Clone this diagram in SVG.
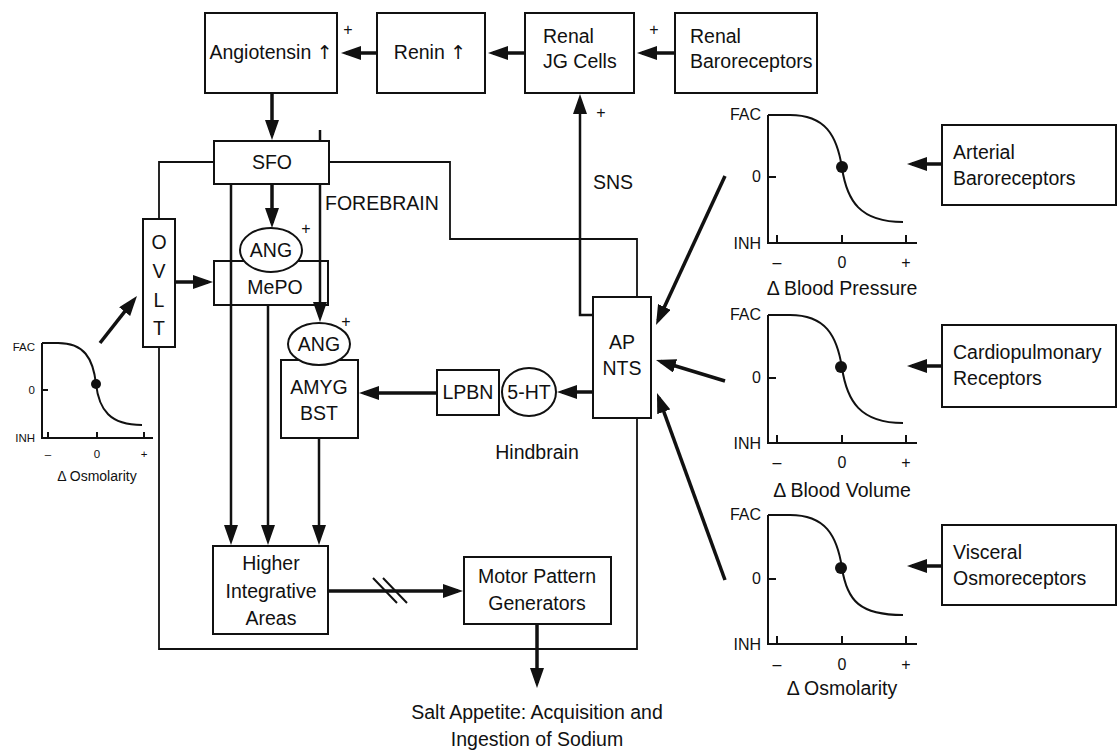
<svg xmlns="http://www.w3.org/2000/svg" width="1117" height="753" viewBox="0 0 1117 753">
<defs>
<marker id="ah" markerUnits="userSpaceOnUse" markerWidth="20" markerHeight="14" refX="15" refY="7" orient="auto">
<path d="M0,0 L20,7 L0,14 z" fill="#111"/>
</marker>
<style>
.box{fill:#fff;stroke:#111;stroke-width:2}
.t{font-family:"Liberation Sans",Arial,sans-serif;font-size:19.5px;fill:#111}
.m{text-anchor:middle}
.e{text-anchor:end}
.s{font-size:16px}
.xs{font-size:11.5px}
.up{font-family:"DejaVu Sans",sans-serif;font-size:19px}
.arr{stroke:#111;stroke-width:3.5;fill:none;marker-end:url(#ah)}
.ln{stroke:#111;stroke-width:2.5;fill:none}
.frame{stroke:#111;stroke-width:1.8;fill:none}
.axis{stroke:#111;stroke-width:2;fill:none}
</style>
</defs>
<rect width="1117" height="753" fill="#fff"/>

<g id="angiotensin"><rect class="box" x="205" y="13" width="132" height="80"/><text class="t m" x="271" y="59">Angiotensin <tspan class="up">↑</tspan></text></g>
<g id="renin"><rect class="box" x="377" y="13" width="108" height="80"/><text class="t m" x="430" y="59">Renin <tspan class="up">↑</tspan></text></g>
<g id="jg"><rect class="box" x="525" y="13" width="109" height="80"/><text class="t" x="543" y="43">Renal</text><text class="t" x="543" y="68">JG Cells</text></g>
<g id="renalbaro"><rect class="box" x="675" y="13" width="142" height="80"/><text class="t" x="690" y="43">Renal</text><text class="t" x="690" y="68">Baroreceptors</text></g>
<g id="plus-top"><text class="t s m" x="348" y="35">+</text><text class="t s m" x="654" y="35">+</text><text class="t s m" x="601" y="118">+</text></g>

<g id="sfo"><rect class="box" x="214" y="141" width="115" height="43"/><text class="t m" x="272" y="169">SFO</text></g>
<g id="ovlt"><rect class="box" x="143" y="219" width="32" height="128"/>
<text class="t m" x="159" y="249">O</text><text class="t m" x="159" y="278">V</text><text class="t m" x="159" y="307">L</text><text class="t m" x="159" y="335">T</text></g>
<g id="mepo"><rect class="box" x="214" y="261" width="114" height="44" style="fill:none"/><text class="t m" x="275" y="294">MePO</text></g>
<g id="ang1"><ellipse class="box" cx="271" cy="250" rx="31" ry="22"/><text class="t m" x="271" y="257">ANG</text><text class="t s m" x="306" y="234">+</text></g>
<g id="amyg"><rect class="box" x="281" y="360" width="77" height="78"/><text class="t m" x="319" y="394">AMYG</text><text class="t m" x="319" y="420">BST</text></g>
<g id="ang2"><ellipse class="box" cx="319" cy="344" rx="31" ry="21"/><text class="t m" x="319" y="351">ANG</text><text class="t s m" x="346" y="327">+</text></g>
<g id="lpbn"><rect class="box" x="437" y="370" width="62" height="45"/><text class="t m" x="468" y="399">LPBN</text></g>
<g id="ht5"><ellipse class="box" cx="529" cy="392" rx="27" ry="24"/><text class="t m" x="529" y="399">5-HT</text></g>
<g id="apnts"><rect class="box" x="593" y="297" width="58" height="121"/><text class="t m" x="622" y="349">AP</text><text class="t m" x="622" y="375">NTS</text></g>
<g id="higher"><rect class="box" x="213" y="546" width="115" height="88"/><text class="t m" x="271" y="570">Higher</text><text class="t m" x="271" y="598">Integrative</text><text class="t m" x="271" y="625">Areas</text></g>
<g id="motor"><rect class="box" x="464" y="557" width="147" height="67"/><text class="t m" x="537" y="583">Motor Pattern</text><text class="t m" x="537" y="610">Generators</text></g>
<g id="labels"><text class="t" x="325" y="210">FOREBRAIN</text><text class="t m" x="613" y="189">SNS</text><text class="t m" x="537" y="459">Hindbrain</text>
<text class="t m" x="537" y="719">Salt Appetite: Acquisition and</text><text class="t m" x="537" y="746">Ingestion of Sodium</text></g>

<g id="arterial"><rect class="box" x="942" y="125" width="174" height="80"/><text class="t" x="953" y="159">Arterial</text><text class="t" x="953" y="185">Baroreceptors</text></g>
<g id="cardio"><rect class="box" x="942" y="325" width="174" height="82"/><text class="t" x="953" y="359">Cardiopulmonary</text><text class="t" x="953" y="385">Receptors</text></g>
<g id="visceral"><rect class="box" x="942" y="525" width="174" height="80"/><text class="t" x="953" y="559">Visceral</text><text class="t" x="953" y="585">Osmoreceptors</text></g>

<g id="graph-bp">
<path class="axis" d="M768,115 V243 H917 M768,177 H776 M777,243 V235 M842,243 V235 M906,243 V235"/>
<path class="axis" d="M768,115 H790 C825,115 837,135 842,168 C847,201 860,222 903,222"/>
<circle cx="842" cy="167" r="6" fill="#111"/>
<text class="t s e" x="761" y="120">FAC</text><text class="t s e" x="761" y="182">0</text><text class="t s e" x="761" y="249">INH</text>
<text class="t s m" x="777" y="268">–</text><text class="t s m" x="842" y="268">0</text><text class="t s m" x="906" y="268">+</text>
<text class="t m" x="842" y="295">Δ Blood Pressure</text></g>
<g id="graph-bv">
<path class="axis" d="M768,315 V443 H917 M768,378 H776 M777,443 V435 M842,443 V435 M906,443 V435"/>
<path class="axis" d="M768,315 H790 C825,315 837,335 842,368 C847,401 860,423 903,423"/>
<circle cx="841" cy="367" r="6" fill="#111"/>
<text class="t s e" x="761" y="320">FAC</text><text class="t s e" x="761" y="383">0</text><text class="t s e" x="761" y="449">INH</text>
<text class="t s m" x="777" y="468">–</text><text class="t s m" x="842" y="468">0</text><text class="t s m" x="906" y="468">+</text>
<text class="t m" x="842" y="497">Δ Blood Volume</text></g>
<g id="graph-osm">
<path class="axis" d="M768,515 V644 H917 M768,579 H776 M777,644 V636 M842,644 V636 M906,644 V636"/>
<path class="axis" d="M768,515 H790 C825,515 837,535 842,568 C847,601 860,615 903,615"/>
<circle cx="841" cy="568" r="6" fill="#111"/>
<text class="t s e" x="761" y="520">FAC</text><text class="t s e" x="761" y="584">0</text><text class="t s e" x="761" y="650">INH</text>
<text class="t s m" x="777" y="670">–</text><text class="t s m" x="842" y="670">0</text><text class="t s m" x="906" y="670">+</text>
<text class="t m" x="842" y="695">Δ Osmolarity</text></g>
<g id="graph-left">
<path class="axis" d="M42,343 V438 H153 M42,390 H48 M48,438 V432 M97,438 V432 M144,438 V432"/>
<path class="axis" d="M42,343 H58 C84,343 93,358 96,384 C99,410 110,425 142,425"/>
<circle cx="96" cy="384" r="5" fill="#111"/>
<text class="t xs e" x="35" y="351">FAC</text><text class="t xs e" x="35" y="394">0</text><text class="t xs e" x="35" y="442">INH</text>
<text class="t xs m" x="48" y="458">–</text><text class="t xs m" x="97" y="458">0</text><text class="t xs m" x="144" y="458">+</text>
<text class="t m" style="font-size:14px" x="97" y="481">Δ Osmolarity</text></g>

<g id="connectors">
<path class="frame" d="M214,162 H159 V219 M159,347 V649 H637 V418 M329,162 H450 V239 H637 V297"/>
<path class="arr" d="M377,53 H346"/>
<path class="arr" d="M525,53 H493"/>
<path class="arr" d="M675,53 H642"/>
<path class="arr" d="M272,93 V135"/>
<path class="arr" d="M272,184 V223"/>
<path class="ln" d="M320,130 V141"/>
<path class="arr" style="stroke-width:2.5" d="M320,184 V317"/>
<path class="arr" style="stroke-width:2.5" d="M231,184 V540"/>
<path class="arr" style="stroke-width:2.5" d="M268,305 V540"/>
<path class="arr" style="stroke-width:2.5" d="M319,438 V540"/>
<path class="arr" d="M175,282 H208"/>
<path class="arr" d="M100,343 L133.9,299.9"/>
<path class="arr" d="M593,392 H562"/>
<path class="arr" d="M437,393 H364"/>
<path class="arr" style="stroke-width:2.5" d="M593,315 H580 V99"/>
<path class="arr" d="M328,591 H458"/>
<path class="ln" style="stroke-width:2" d="M373,578 L397,603 M383,578 L407,603"/>
<path class="arr" d="M537,624 V683"/>
<path class="arr" d="M725,176 L658.1,320.5"/>
<path class="arr" d="M725,381 L660.8,361.5"/>
<path class="arr" d="M725,580 L658.7,397.7"/>
<path class="arr" d="M942,164 H912"/>
<path class="arr" d="M942,366 H912"/>
<path class="arr" d="M942,566 H912"/>
</g>
</svg>
